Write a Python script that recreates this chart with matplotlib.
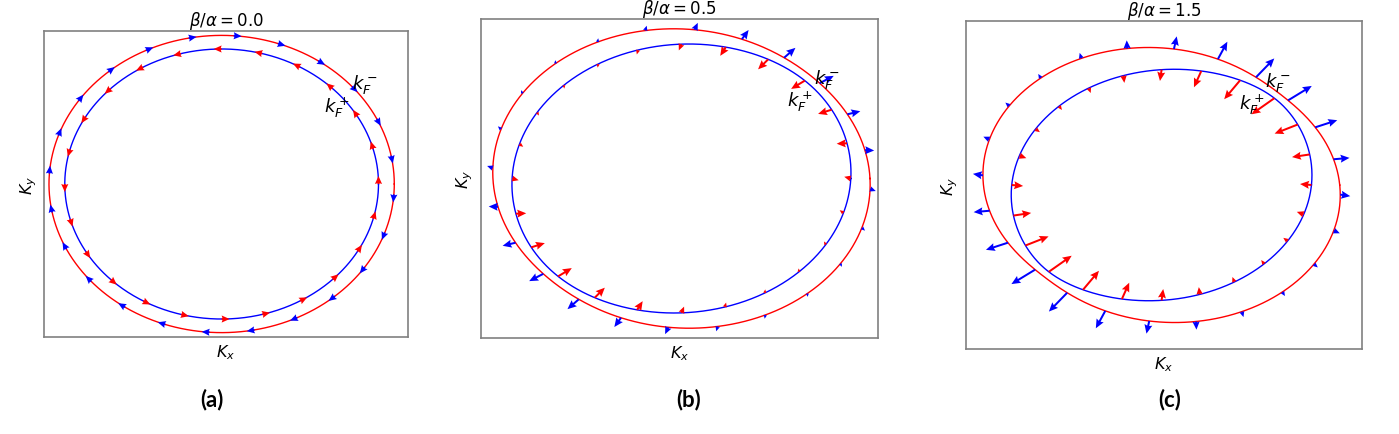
import numpy as np
import matplotlib.pyplot as plt

# beta / alpha of each panel
ratios = [0.0, 0.5, 1.5]
titles = [r"$\beta/\alpha = 0.0$", r"$\beta/\alpha = 0.5$", r"$\beta/\alpha = 1.5$"]
tags = ["(a)", "(b)", "(c)"]

k_0 = 1.0      # Fermi wave vector without spin-orbit
k_so = 0.048   # spin-orbit wave vector (m alpha / hbar^2)

n_arrows = 24
arrow_max = [8, 16, 28]   # longest arrow in each panel (pixels)

# axis ranges
x_half = [1.106, 1.111, 1.212]
y_half = [1.080, 1.125, 1.304]
x_mid = [0.027, -0.011, 0.015]

# k_F label positions (axes fraction)
km_pos = [(0.882, 0.827), (0.872, 0.812), (0.788, 0.817)]
kp_pos = [(0.805, 0.752), (0.804, 0.743), (0.722, 0.747)]

boxes = [[0.0315, 0.2230, 0.2602, 0.7034],
         [0.3438, 0.2207, 0.2838, 0.7333],
         [0.6905, 0.1954, 0.2831, 0.7540]]
title_pad = [3.5, 1.5, 1.5]
tag_x = [212, 689, 1170]


def lam(theta, r):
    return np.sqrt(1 + r**2 - 2 * r * np.sin(2 * theta))


def kf(theta, r, s):
    # s=+1 -> outer contour (k_F^-), s=-1 -> inner contour (k_F^+)
    l = k_so * lam(theta, r)
    return np.sqrt(l**2 + k_0**2) + s * l


def spin(theta, r):
    # tangential part from alpha, radial part from beta
    tx, ty = np.sin(theta), -np.cos(theta)
    rx, ry = np.cos(theta), np.sin(theta)
    g = 6 * r * np.exp(0.9 * np.sin(2 * theta))
    return tx + g * rx, ty + g * ry


fig = plt.figure(figsize=(13.99, 4.35), dpi=100)
th = np.linspace(0, 2 * np.pi, 720)

for i, r in enumerate(ratios):
    ax = fig.add_axes(boxes[i])

    k_out = kf(th, r, 1)
    k_in = kf(th, r, -1)
    ax.plot(k_out * np.cos(th), k_out * np.sin(th), color="red", lw=1)
    ax.plot(k_in * np.cos(th), k_in * np.sin(th), color="blue", lw=1)

    tb = np.deg2rad(np.arange(n_arrows) * 15 - 4)
    tr = np.deg2rad(np.arange(n_arrows) * 15)
    ub, vb = spin(tb, r)
    ur, vr = spin(tr, r)
    ur, vr = -ur, -vr
    big = max(np.hypot(ub, vb).max(), np.hypot(ur, vr).max())
    f = arrow_max[i] / big

    kb = kf(tb, r, 1)
    kr = kf(tr, r, -1)
    qkw = dict(angles="xy", scale_units="dots", scale=1, units="dots",
               width=2.0, headwidth=4, headlength=4.5, headaxislength=4,
               zorder=3)
    ax.quiver(kb * np.cos(tb), kb * np.sin(tb), ub * f, vb * f, color="blue", **qkw)
    ax.quiver(kr * np.cos(tr), kr * np.sin(tr), ur * f, vr * f, color="red", **qkw)

    ax.set_xlim(x_mid[i] - x_half[i], x_mid[i] + x_half[i])
    ax.set_ylim(-y_half[i], y_half[i])
    ax.set_xticks([])
    ax.set_yticks([])
    for sp in ax.spines.values():
        sp.set_color("0.5")
        sp.set_linewidth(1.2)

    ax.set_title(titles[i], fontsize=12, pad=title_pad[i])
    ax.set_xlabel(r"$K_x$", fontsize=11.5)
    ax.set_ylabel(r"$K_y$", fontsize=11.5)
    ax.text(*km_pos[i], r"$k_F^-$", transform=ax.transAxes, fontsize=13,
            ha="center", va="center", zorder=4)
    ax.text(*kp_pos[i], r"$k_F^+$", transform=ax.transAxes, fontsize=13,
            ha="center", va="center", zorder=4)

    fig.text(tag_x[i] / 1399, 1 - 400 / 435, tags[i], fontsize=16,
             fontweight="bold", family="Lato", ha="center", va="center")

fig.savefig("out.png", dpi=100)
